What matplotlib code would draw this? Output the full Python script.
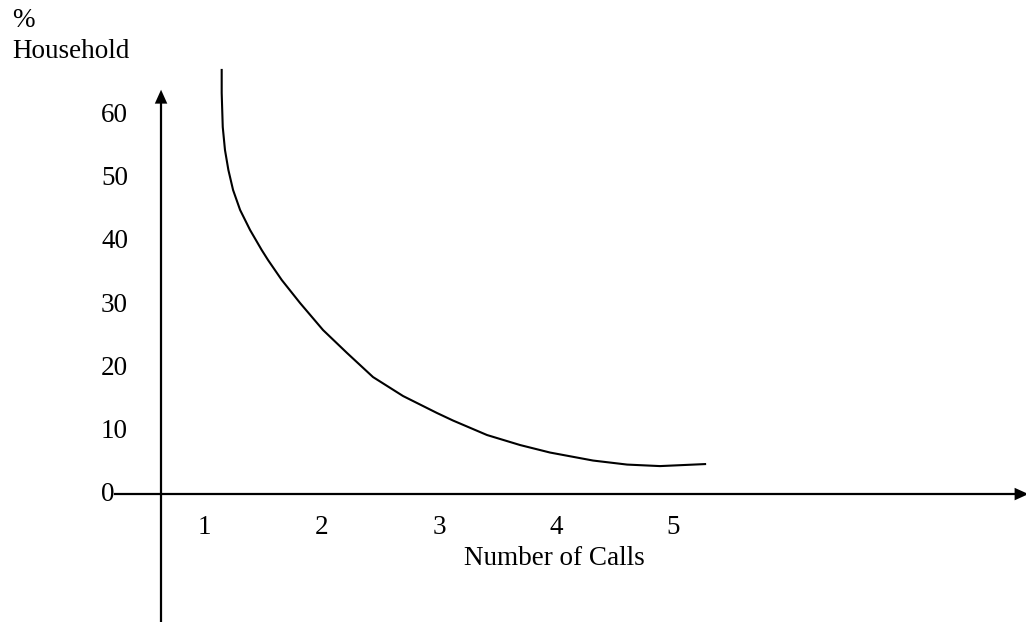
import matplotlib.pyplot as plt

# values
calls = [1.148, 1.148, 1.157, 1.176, 1.205, 1.245, 1.305, 1.390, 1.489, 1.543,
         1.660, 1.816, 2.012, 2.217, 2.438, 2.694, 2.984, 3.120, 3.410, 3.692,
         3.947, 4.314, 4.604, 4.885, 5.269]
household = [67.3, 63.65, 58.25, 54.6, 51.43, 48.25, 45.08, 41.9, 38.73, 37.14,
             33.97, 30.32, 26.03, 22.38, 18.57, 15.56, 12.86, 11.67, 9.37, 7.78,
             6.59, 5.32, 4.68, 4.44, 4.76]
x_ticks = [1, 2, 3, 4, 5]
y_ticks = [10, 20, 30, 40, 50, 60]

fig = plt.figure(figsize=(10.26, 6.22), dpi=100)
ax = fig.add_axes([0, 0, 1, 1])
ax.set_xlim(-0.742, 8.005)
ax.set_ylim(-20.3, 78.4)
ax.axis('off')

serif = 'Liberation Serif'
fs = 19.5
head = dict(arrowstyle='-|>,head_width=0.45,head_length=1.0', color='black', lw=0)

# y axis with arrow
yax = 0.631
ax.plot([yax, yax], [-21, 62.5], color='black', lw=1.6)
ax.annotate('', xy=(yax, 64.6), xytext=(yax, 61.5), arrowprops=head)
# x axis with arrow (tip runs off the right edge)
ax.plot([0.24, 7.95], [0, 0], color='black', lw=1.6)
ax.annotate('', xy=(8.05, 0), xytext=(7.85, 0), arrowprops=head,
            annotation_clip=False)

ax.plot(calls, household, color='black', lw=1.5, solid_joinstyle='round')

for v in y_ticks:
    ax.text(0.35, v, str(v), ha='right', va='center', fontsize=fs, family=serif)
ax.text(0.23, 0, '0', ha='right', va='center', fontsize=fs, family=serif)
for v in x_ticks:
    ax.text(v, -5.3, str(v), ha='center', va='center', fontsize=fs, family=serif)

ax.text(3.98, -10.2, 'Number of Calls', ha='center', va='center', fontsize=fs, family=serif)
ax.text(-0.64, 75.2, '%', ha='left', va='center', fontsize=fs, family=serif)
ax.text(-0.64, 70.2, 'Household', ha='left', va='center', fontsize=fs, family=serif)

fig.savefig('out.png', dpi=100)
